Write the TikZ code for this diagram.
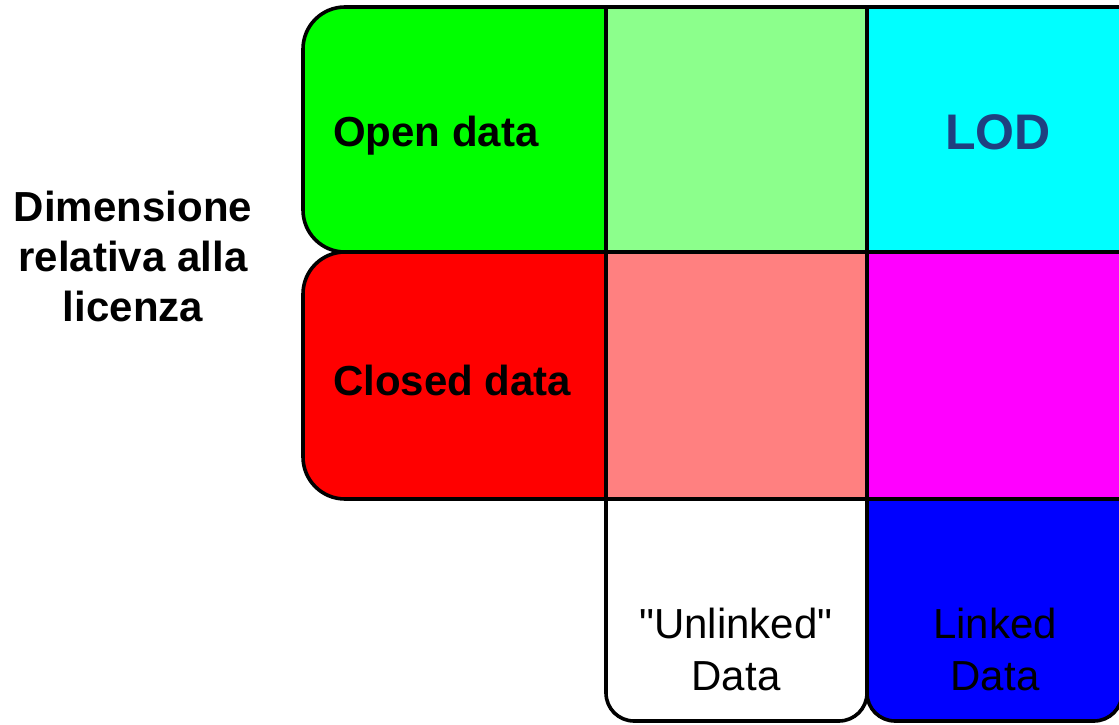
\documentclass[tikz,border=0pt]{standalone}
\usepackage{fontspec}
\setmainfont{Liberation Sans}
% same family without the TeX quote mapping, for straight quotes
\newfontfamily\straightquotes{Liberation Sans}
\definecolor{opengreen}{HTML}{00FF00}
\definecolor{lightgreen}{HTML}{8CFF8C}
\definecolor{lodcyan}{HTML}{00FFFF}
\definecolor{closedred}{HTML}{FF0000}
\definecolor{lightred}{HTML}{FF8080}
\definecolor{linkmagenta}{HTML}{FF00FF}
\definecolor{linkblue}{HTML}{0000FF}
\definecolor{lodtext}{HTML}{1F4080}
\tikzset{
  cell/.style={draw=black, line width=3.6pt, line join=round},
  boldlabel/.style={inner sep=0pt, font=\fontsize{42}{50}\selectfont\bfseries},
  plainlabel/.style={inner sep=0pt, font=\straightquotes\fontsize{42}{50}\selectfont},
}
\begin{document}
\begin{tikzpicture}[x=1pt, y=1pt]
\useasboundingbox (0,0) rectangle (1119,724);
\clip (0,0) rectangle (1119,724);

% row "Open data"
\draw[cell, fill=opengreen] (606,717) -- (345,717)
  arc[start angle=90, end angle=180, radius=42pt] -- (303,514)
  arc[start angle=180, end angle=270, radius=42pt] -- (606,472) -- cycle;
\draw[cell, fill=lightgreen] (606,472) rectangle (867,717);
\draw[cell, fill=lodcyan] (867,472) rectangle (1140,717);

% row "Closed data"
\draw[cell, fill=closedred] (606,472) -- (345,472)
  arc[start angle=90, end angle=180, radius=42pt] -- (303,267)
  arc[start angle=180, end angle=270, radius=42pt] -- (606,225) -- cycle;
\draw[cell, fill=lightred] (606,225) rectangle (867,472);
\draw[cell, fill=linkmagenta] (867,225) rectangle (1140,472);

% bottom row
\draw[cell, fill=white] (606,225) -- (606,31)
  arc[start angle=180, end angle=270, radius=28pt] -- (839,3)
  arc[start angle=270, end angle=360, radius=28pt] -- (867,225) -- cycle;
\draw[cell, fill=linkblue] (867,225) -- (867,31)
  arc[start angle=180, end angle=270, radius=28pt] -- (1094,3)
  arc[start angle=270, end angle=360, radius=28pt] -- (1122,225) -- cycle;

% labels
\node[boldlabel, anchor=base west] (open) at (333,577) {Open data};
\node[boldlabel, anchor=base west] (closed) at (333,329) {Closed data};
\node[inner sep=0pt, anchor=base, text=lodtext,
      font=\fontsize{50}{60}\selectfont\bfseries] (lod) at (998,574) {LOD};

\node[boldlabel, anchor=base] (dim1) at (133,502) {Dimensione};
\node[boldlabel, anchor=base] (dim2) at (133,452) {relativa alla};
\node[boldlabel, anchor=base] (dim3) at (133,402) {licenza};

\node[plainlabel, anchor=base] (unl1) at (736,86) {"Unlinked"};
\node[plainlabel, anchor=base] (unl2) at (736,34) {Data};
\node[plainlabel, anchor=base] (lnk1) at (995,86) {Linked};
\node[plainlabel, anchor=base] (lnk2) at (995,34) {Data};
\end{tikzpicture}
\end{document}
